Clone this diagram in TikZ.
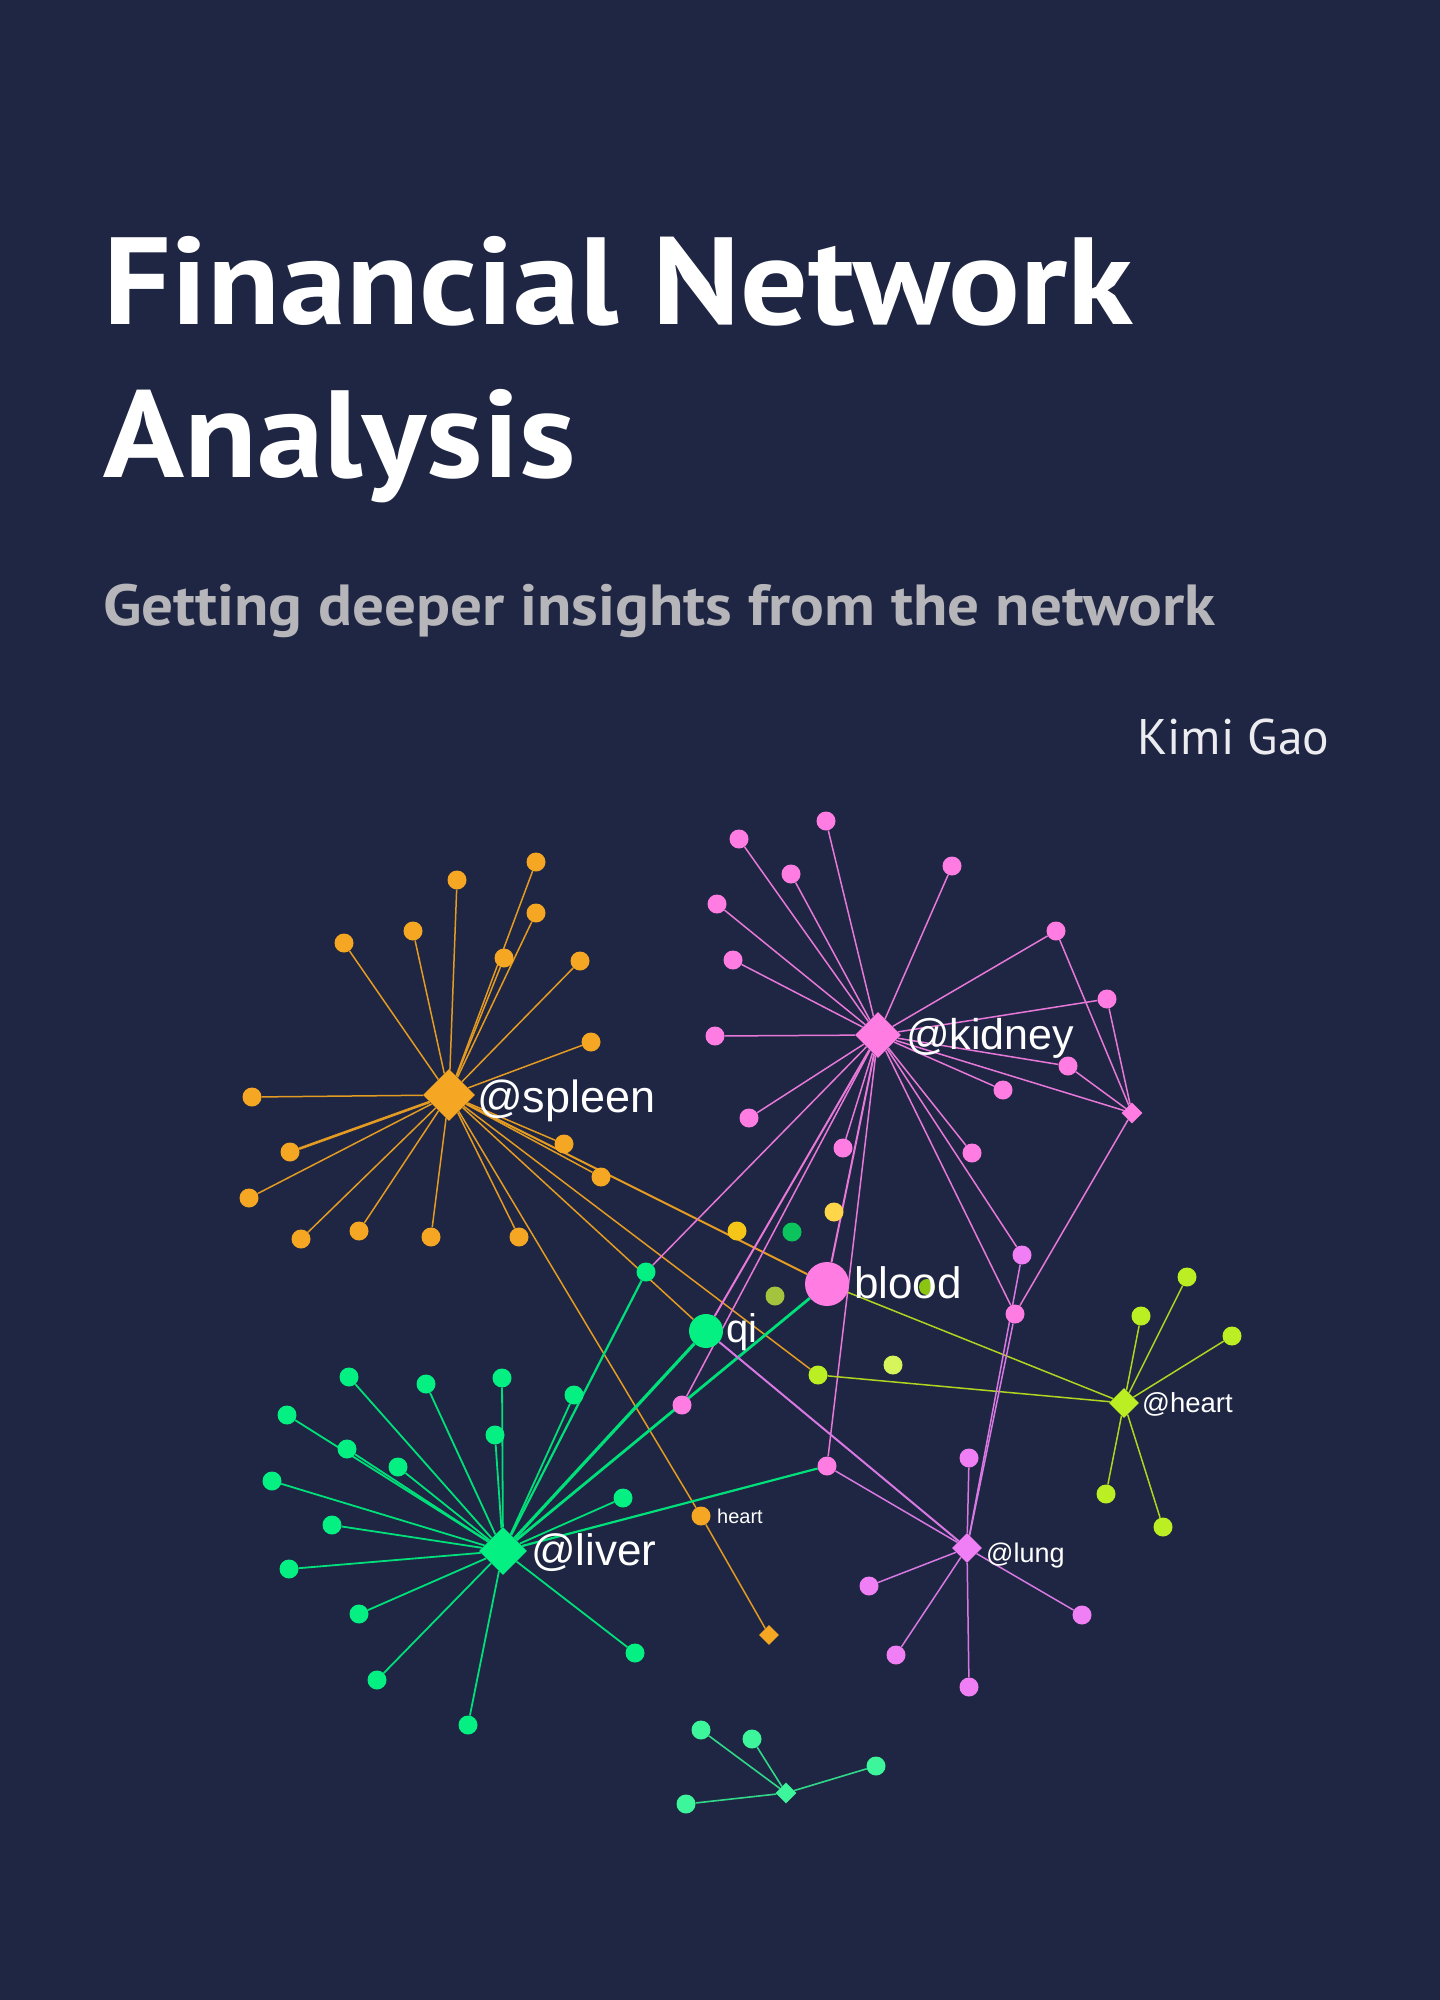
\documentclass[tikz,border=0pt]{standalone}
\usepackage{fontspec}
\usepackage{graphicx}
\usetikzlibrary{shapes.geometric}
\newfontfamily\titlefont{PT Sans}
\newfontfamily\labelfont{Liberation Sans}
\definecolor{bgc}{RGB}{30,38,67}
\definecolor{orF}{HTML}{F5A623}
\definecolor{orL}{HTML}{E49B22}
\definecolor{pkF}{HTML}{FF7DE2}
\definecolor{pkL}{HTML}{E878D8}
\definecolor{viF}{HTML}{F07FF5}
\definecolor{viL}{HTML}{D878E2}
\definecolor{grF}{HTML}{05F082}
\definecolor{grL}{HTML}{00E07A}
\definecolor{g2F}{HTML}{3DF59A}
\definecolor{g2L}{HTML}{30D888}
\definecolor{hgF}{HTML}{BCEE24}
\definecolor{hgL}{HTML}{B0D420}
\definecolor{yeA}{RGB}{245,197,24}
\definecolor{yeB}{RGB}{255,213,74}
\definecolor{dgC}{RGB}{12,196,94}
\definecolor{olC}{RGB}{164,196,62}
\definecolor{lyC}{RGB}{214,245,90}
\definecolor{bgD}{RGB}{140,196,20}
\definecolor{subc}{RGB}{182,182,186}
\definecolor{authc}{RGB}{235,235,240}
\pgfdeclarelayer{bglayer}
\pgfdeclarelayer{edgelayer}
\pgfsetlayers{bglayer,edgelayer,main}
\newlength\tmpw
\tikzset{
  dot/.style={circle, inner sep=0, minimum size=19, draw=none, fill=#1},
  hub/.style={diamond, aspect=1, inner sep=0, minimum size=#1, draw=none},
  lbl/.style={anchor=base west, inner sep=0, text=white, font=\labelfont\fontsize{#1}{#1}\selectfont},
  eo/.style={draw=orL, line width=1.5},
  ek/.style={draw=pkL, line width=1.5},
  ev/.style={draw=viL, line width=1.5},
  el/.style={draw=grL, line width=1.8},
  eh/.style={draw=hgL, line width=1.5},
  eb/.style={draw=g2L, line width=1.6},
}
\begin{document}
\settowidth\tmpw{\titlefont\bfseries\fontsize{124}{124}\selectfont Financial Network}%
\pgfmathsetmacro\tsx{1030/\tmpw}%
\settowidth\tmpw{\titlefont\bfseries\fontsize{58}{58}\selectfont Getting deeper insights from the network}%
\pgfmathsetmacro\ssx{1112/\tmpw}%
\settowidth\tmpw{\titlefont\fontsize{50}{50}\selectfont Kimi Gao}%
\pgfmathsetmacro\asx{192/\tmpw}%
\begin{tikzpicture}[x=1pt,y=-1pt]
\begin{pgfonlayer}{bglayer}
\fill[bgc] (0,0) rectangle (1440,2000);
\end{pgfonlayer}
\useasboundingbox (0,0) rectangle (1440,2000);

% ---------- titles ----------
\node[anchor=base west, inner sep=0, text=white] (t1) at (103,324)
  {\scalebox{\tsx}[1]{\titlefont\bfseries\fontsize{124}{124}\selectfont Financial Network}};
\node[anchor=base west, inner sep=0, text=white] (t2) at (103,477)
  {\scalebox{\tsx}[1]{\titlefont\bfseries\fontsize{124}{124}\selectfont Analysis}};
\node[anchor=base west, inner sep=0, text=subc] (sub) at (103,625)
  {\scalebox{\ssx}[1]{\titlefont\bfseries\fontsize{58}{58}\selectfont Getting deeper insights from the network}};
\node[anchor=base west, inner sep=0, text=authc] (auth) at (1137,754)
  {\scalebox{\asx}[1]{\titlefont\fontsize{50}{50}\selectfont Kimi Gao}};

% ---------- spleen ----------
\node[hub=52, fill=orF] (sp) at (449,1095) {};
\foreach \n/\x/\y in {1/536/862,2/457/880,3/536/913,4/413/931,5/344/943,6/504/958,7/580/961,8/591/1042,9/252/1097,10/290/1152,11/249/1198,12/301/1239,13/359/1231,14/431/1237,15/519/1237,16/564/1144,17/601/1177}
  \node[dot=orF] (s\n) at (\x,\y) {};

% ---------- kidney ----------
\node[hub=46, fill=pkF] (kd) at (878,1035) {};
\foreach \n/\x/\y in {1/826/821,2/739/839,3/952/866,4/791/874,5/717/904,6/733/960,7/1056/931,8/1107/999,9/715/1036,10/1068/1066,11/1003/1090,12/749/1118,14/843/1148,15/972/1153}
  \node[dot=pkF] (k\n) at (\x,\y) {};
\node[hub=21, fill=pkF] (pd) at (1132,1113) {};

% ---------- middle ----------
\node[dot=grF] (gn) at (646,1272) {};
\node[circle, inner sep=0, minimum size=34, fill=grF] (qi) at (706,1331) {};
\node[circle, inner sep=0, minimum size=44, fill=pkF] (blood) at (827,1284) {};
\node[dot=hgF] (yg1) at (818,1375) {};
\node[dot=pkF] (p1) at (682,1405) {};
\node[dot=pkF] (p2) at (827,1466) {};
\node[dot=pkF] (p3) at (1015,1314) {};
\node[dot=viF] (v1) at (1022,1255) {};
\node[dot=orF] (ho) at (701,1516) {};
\node[hub=20, fill=orF] (od) at (769,1635) {};
\node[dot=yeA] (y1) at (737,1231) {};
\node[dot=yeB] (y2) at (834,1212) {};
\node[dot=dgC] (dg) at (792,1232) {};
\node[dot=olC] (ol) at (775,1296) {};
\node[dot=lyC] (ly) at (893,1365) {};
\node[circle, inner sep=0, minimum size=16, fill=bgD] (bg2) at (927,1287) {};

% ---------- heart ----------
\node[hub=30, fill=hgF] (ht) at (1124,1403) {};
\foreach \n/\x/\y in {1/1187/1277,2/1141/1316,3/1232/1336,4/1106/1494,5/1163/1527}
  \node[dot=hgF] (h\n) at (\x,\y) {};

% ---------- lung ----------
\node[hub=30, fill=viF] (lg) at (967,1548) {};
\foreach \n/\x/\y in {1/969/1458,2/869/1586,3/896/1655,4/969/1687,5/1082/1615}
  \node[dot=viF] (n\n) at (\x,\y) {};

% ---------- liver ----------
\node[hub=48, fill=grF] (lv) at (503,1551) {};
\foreach \n/\x/\y in {1/349/1377,2/426/1384,3/502/1378,4/574/1395,5/287/1415,6/347/1449,7/495/1435,8/398/1467,9/272/1481,10/332/1525,11/623/1498,12/289/1569,13/359/1614,14/635/1653,15/377/1680,16/468/1725}
  \node[dot=grF] (l\n) at (\x,\y) {};

% ---------- bottom cluster ----------
\node[hub=21, fill=g2F] (bd) at (786,1793) {};
\foreach \n/\x/\y in {1/701/1730,2/752/1739,3/876/1766,4/686/1804}
  \node[dot=g2F] (b\n) at (\x,\y) {};

% ---------- edges ----------
\begin{pgfonlayer}{edgelayer}
\foreach \n in {1,...,9,11,12,13,14,15,16,17} \draw[eo] (sp) -- (s\n);
\draw[eo, line width=2.6] (sp) -- (s10);
\draw[eo, line width=2] (sp) -- (blood);
\draw[eo] (sp) -- (yg1);
\draw[eo] (sp) -- (qi);
\draw[eo] (sp) -- (ho);
\draw[eo] (ho) -- (od);

\foreach \n in {1,...,12,14,15} \draw[ek] (kd) -- (k\n);
\draw[ek] (kd) -- (pd);
\draw[ek] (kd) -- (gn);
\draw[ek, line width=2] (kd) -- (qi);
\draw[ek] (kd) -- (p1);
\draw[ek, line width=2] (kd) -- (blood);
\draw[ek] (kd) -- (p2);
\draw[ek] (kd) -- (p3);
\draw[ek] (kd) -- (v1);
\draw[ek] (k7) -- (pd);
\draw[ek] (k8) -- (pd);
\draw[ek] (k10) -- (pd);
\draw[ek] (pd) -- (p3);

\foreach \n in {1,...,16} \draw[el] (lv) -- (l\n);
\draw[el, line width=3.2] (lv) -- (qi);
\draw[el, line width=2.8] (lv) -- (blood);
\draw[el, line width=2.2] (lv) -- (gn);
\draw[el, line width=2.2] (lv) -- (p2);

\foreach \n in {1,...,5} \draw[eh] (ht) -- (h\n);
\draw[eh] (ht) -- (blood);
\draw[eh] (ht) -- (yg1);

\foreach \n in {1,...,5} \draw[ev] (lg) -- (n\n);
\draw[ev, line width=2] (lg) -- (qi);
\draw[ev] (lg) -- (p2);
\draw[ev] (lg) -- (p3);
\draw[ev] (lg) -- (v1);

\foreach \n in {1,...,4} \draw[eb] (bd) -- (b\n);
\end{pgfonlayer}

% ---------- labels ----------
\node[lbl=45] (lsp) at (477,1112) {@spleen};
\node[lbl=43] (lkd) at (906,1049) {@kidney};
\node[lbl=44] (lbl) at (854,1298) {blood};
\node[lbl=40] (lqi) at (726,1342) {qi};
\node[lbl=44] (llv) at (531,1565) {@liver};
\node[lbl=27.5] (lht) at (1142,1412) {@heart};
\node[lbl=27] (llg) at (986,1562) {@lung};
\node[lbl=20] (lho) at (717,1523) {heart};
\end{tikzpicture}
\end{document}
